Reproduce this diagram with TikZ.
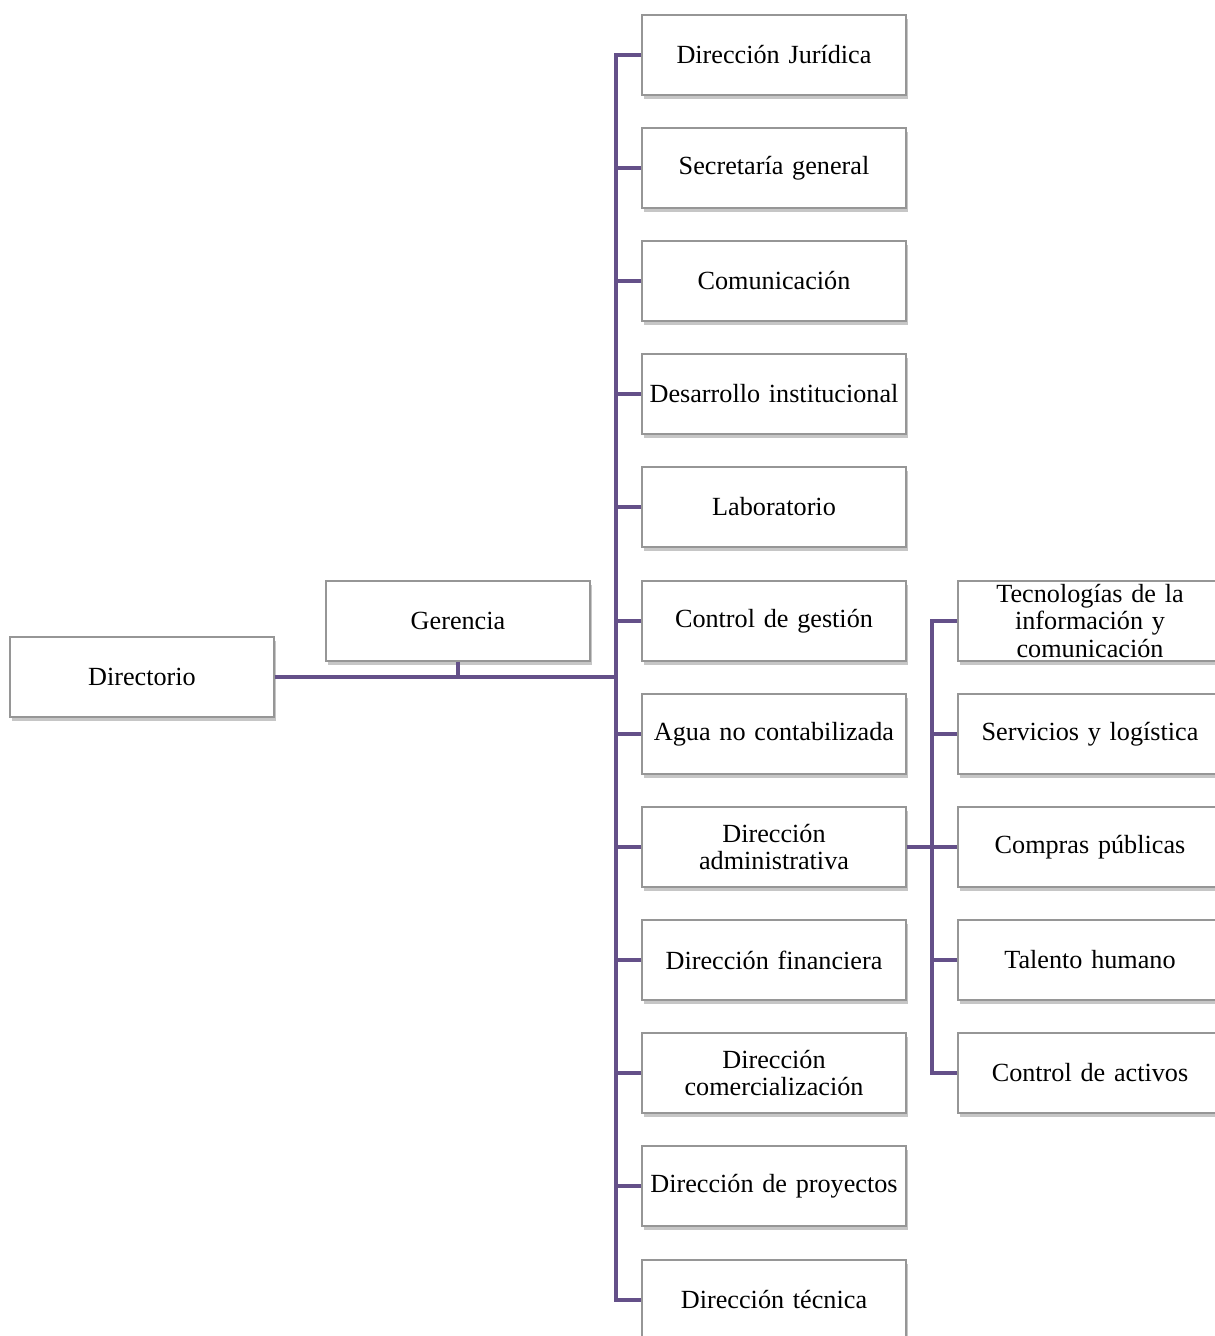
\documentclass[tikz,border=0pt]{standalone}
\usepackage{fontspec}
\setmainfont{Liberation Serif}
\usetikzlibrary{shadows}
\definecolor{conn}{RGB}{100,80,137}
\definecolor{bord}{RGB}{150,150,150}
\tikzset{
  unit/.style={draw=bord, line width=1.3pt, fill=white, minimum width=264pt, minimum height=80pt,
    text width=256pt, align=center, inner sep=0pt,
    font=\fontsize{26.2}{27.5}\selectfont,
    drop shadow={shadow xshift=2pt, shadow yshift=-3.5pt, opacity=0.45, fill=gray}},
  link/.style={draw=conn, line width=4.5pt, line join=miter}
}
\begin{document}
\begin{tikzpicture}[x=1pt, y=-1pt]
\useasboundingbox (0,0) rectangle (1215,1336);
\node[unit] (dir) at (142,677) {Directorio};
\node[unit] (ger) at (458,621) {Gerencia};
\node[unit] (b1) at (774,55) {Dirección Jurídica};
\node[unit] (b2) at (774,168) {Secretaría general};
\node[unit] (b3) at (774,281) {Comunicación};
\node[unit] (b4) at (774,394) {Desarrollo institucional};
\node[unit] (b5) at (774,507) {Laboratorio};
\node[unit] (b6) at (774,621) {Control de gestión};
\node[unit] (b7) at (774,734) {Agua no contabilizada};
\node[unit] (b8) at (774,847) {Dirección\\administrativa};
\node[unit] (b9) at (774,960) {Dirección financiera};
\node[unit] (b10) at (774,1073) {Dirección\\comercialización};
\node[unit] (b11) at (774,1186) {Dirección de proyectos};
\node[unit] (b12) at (774,1300) {Dirección técnica};
\node[unit] (t1) at (1090,621) {Tecnologías de la\\información y\\comunicación};
\node[unit] (t2) at (1090,734) {Servicios y logística};
\node[unit] (t3) at (1090,847) {Compras públicas};
\node[unit] (t4) at (1090,960) {Talento humano};
\node[unit] (t5) at (1090,1073) {Control de activos};
\coordinate (sp) at (616,677);
\coordinate (sq) at (932,847);
\draw[link] (dir.east) -- (sp);
\draw[link] (ger.south) -- (ger.south |- sp);
\draw[link] (b1.west) -| (sp) |- (b12.west);
\foreach \i in {2,...,11} { \draw[link] (b\i.west) -- (b\i.west -| sp); }
\draw[link] (t1.west) -| (sq) |- (t5.west);
\draw[link] (b8.east) -- (t3.west);
\foreach \i in {2,4} { \draw[link] (t\i.west) -- (t\i.west -| sq); }
\end{tikzpicture}
\end{document}
